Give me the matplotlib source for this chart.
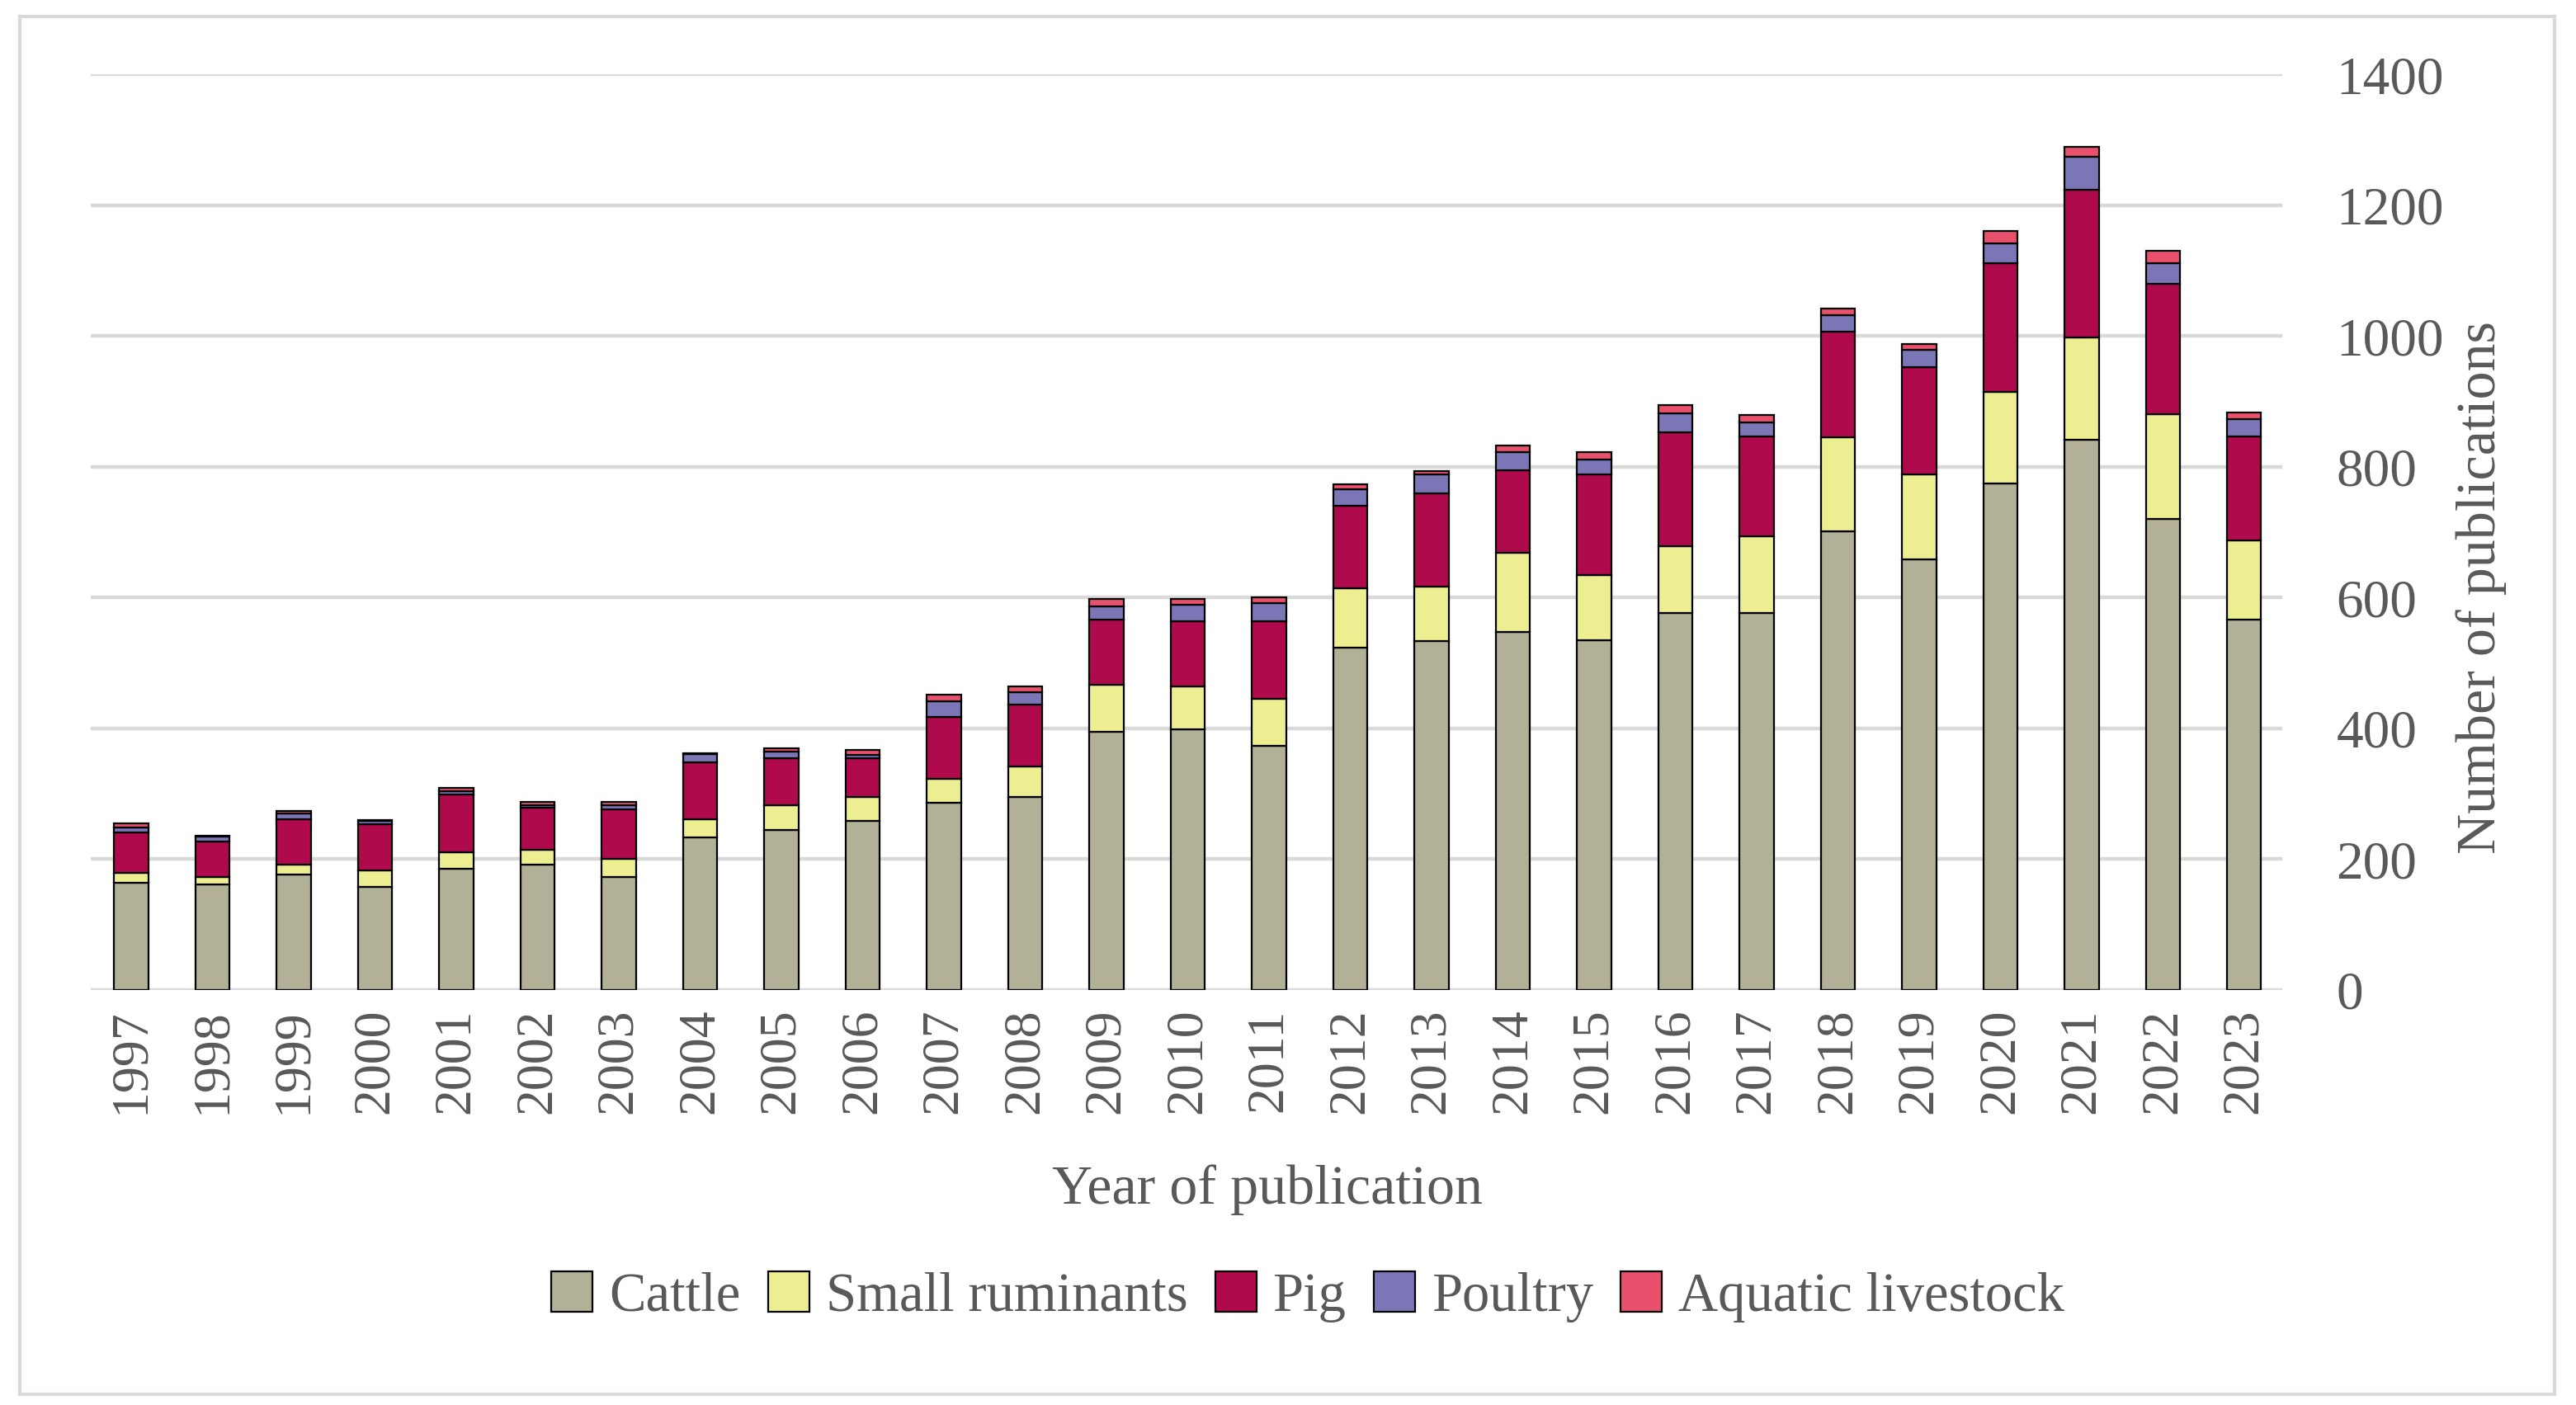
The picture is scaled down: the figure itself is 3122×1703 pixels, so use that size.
import numpy as np
import matplotlib
matplotlib.use("Agg")
import matplotlib.pyplot as plt
from matplotlib.patches import Rectangle, Patch

years = [str(y) for y in range(1997, 2024)]
cattle = [164, 161, 177, 158, 186, 192, 173, 233, 245, 258, 286, 295, 395, 398,
          373, 523, 533, 548, 535, 576, 576, 701, 658, 774, 842, 720, 567]
small_ruminants = [15, 12, 15, 25, 25, 22, 28, 28, 38, 37, 37, 47, 72, 66,
                   72, 91, 84, 121, 100, 103, 118, 144, 131, 140, 156, 160, 120]
pig = [62, 54, 69, 71, 88, 65, 75, 87, 71, 60, 94, 94, 100, 100,
       119, 127, 143, 126, 153, 174, 153, 162, 163, 198, 226, 200, 159]
poultry = [7, 8, 9, 4, 5, 4, 7, 13, 10, 4, 24, 19, 19, 25,
           27, 25, 28, 27, 23, 29, 21, 25, 27, 30, 50, 31, 27]
aquatic = [7, 1, 4, 2, 5, 4, 4, 1, 6, 8, 10, 9, 12, 9,
           10, 7, 6, 11, 12, 12, 11, 10, 9, 19, 15, 19, 10]

series = ["Cattle", "Small ruminants", "Pig", "Poultry", "Aquatic livestock"]
colors = ["#B2B096", "#EDED91", "#AF0B4C", "#7B76B6", "#E8506C"]
txt = "#595959"

plt.rcParams["font.family"] = ["Liberation Serif", "DejaVu Serif"]

fig = plt.figure(figsize=(15.61, 8.515), dpi=200)
ax = fig.add_axes([0.0352, 0.2954, 0.8508, 0.6516])

x = np.arange(len(years))
bottom = np.zeros(len(years))
for name, vals, c in zip(series, [cattle, small_ruminants, pig, poultry, aquatic], colors):
    ax.bar(x, vals, 0.42, bottom=bottom, color=c, edgecolor="black", linewidth=0.8,
           label=name, zorder=3)
    bottom += np.array(vals)

ax.set_xlim(-0.5, 26.47)
ax.set_ylim(0, 1400)
ax.set_yticks(range(0, 1401, 200))
ax.grid(axis="y", color="#D9D9D9", linewidth=1.6, zorder=0)
for s in ax.spines.values():
    s.set_visible(False)

ax.set_xticks(x)
ax.set_xticklabels(years, rotation=90, fontsize=23, color=txt)
ax.tick_params(axis="x", length=0, pad=8)
ax.tick_params(axis="y", left=False, right=False, labelleft=False, labelright=True,
               labelsize=23.5, labelcolor=txt, pad=20)

ax.yaxis.set_label_position("right")
ax.set_ylabel("Number of publications", fontsize=24.5, color=txt, rotation=90)
ax.yaxis.set_label_coords(1.079, 0.44)

fig.text(0.492, 0.1533, "Year of publication", fontsize=24.5, color=txt,
         ha="center", va="center")

handles = [Patch(facecolor=c, edgecolor="black", linewidth=0.8) for c in colors]
fig.legend(handles, series, loc="center", bbox_to_anchor=(0.5077, 0.077), ncol=5,
           frameon=False, fontsize=24, labelcolor=txt, handlelength=0.75,
           handleheight=0.75, handletextpad=0.3, columnspacing=0.5)

fig.patches.append(Rectangle((24 / 3122, 1 - 1690 / 1703), 3072 / 3122, 1670 / 1703,
                             transform=fig.transFigure, fill=False,
                             edgecolor="#D9D9D9", linewidth=1.5))

fig.savefig("out.png", dpi=200)
